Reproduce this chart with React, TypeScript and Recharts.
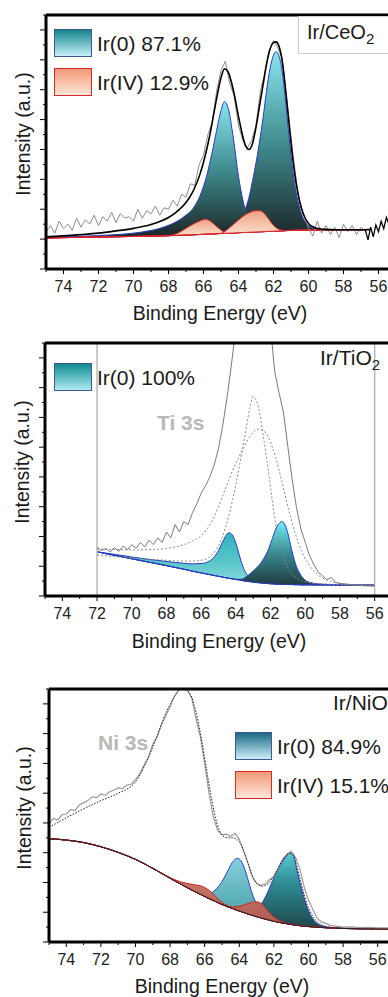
import React from 'react';
import { ComposedChart, Area, Line, XAxis, YAxis, ReferenceLine } from 'recharts';

const FONT = '"Liberation Sans", Arial, Helvetica, sans-serif';

// shared ticks (binding energy in eV, intensity in arbitrary tick units)
const xTicks = [55, 56, 57, 58, 59, 60, 61, 62, 63, 64, 65, 66, 67, 68, 69, 70, 71, 72, 73, 74, 75];
const yTicks = [0, 1, 2, 3, 4, 5, 6, 7, 8, 9, 10, 11, 12, 13, 14, 15, 16, 17];

// ---------- Ir/CeO2 ----------
const ceEnergy = [75, 74, 73, 72, 71, 70, 69, 68.5, 68, 67.5, 67, 66.6, 66.2, 65.9, 65.6, 65.3, 65.0, 64.8, 64.6, 64.3, 64.0, 63.8, 63.6, 63.4, 63.2, 63.0, 62.8, 62.6, 62.4, 62.2, 62.0, 61.85, 61.7, 61.5, 61.3, 61.1, 60.9, 60.7, 60.5, 60.3, 60.0, 59.7, 59.3, 59.0, 58.5, 58.0, 57.0, 56.5];
const ceBackground = [2.08, 2.1, 2.12, 2.14, 2.16, 2.18, 2.2, 2.21, 2.23, 2.25, 2.27, 2.29, 2.31, 2.33, 2.34, 2.36, 2.38, 2.39, 2.4, 2.41, 2.43, 2.44, 2.45, 2.46, 2.47, 2.48, 2.49, 2.5, 2.51, 2.52, 2.53, 2.54, 2.55, 2.56, 2.57, 2.58, 2.58, 2.59, 2.59, 2.6, 2.6, 2.61, 2.61, 2.61, 2.62, 2.62, 2.63, 2.64];
const ceIr0Left = [2.12, 2.15, 2.19, 2.24, 2.3, 2.4, 2.58, 2.72, 2.92, 3.2, 3.6, 4.05, 4.9, 5.9, 7.3, 9.0, 10.6, 11.2, 10.8, 8.8, 6.2, 4.9, 3.9, 3.3, 2.95, 2.72, 2.6, 2.55, 2.52, 2.52, 2.53, 2.54, 2.55, 2.56, 2.57, 2.58, 2.58, 2.59, 2.59, 2.6, 2.6, 2.61, 2.61, 2.61, 2.62, 2.62, 2.63, 2.64];
const ceIr0Right = [2.1, 2.12, 2.15, 2.18, 2.21, 2.25, 2.3, 2.33, 2.37, 2.42, 2.48, 2.53, 2.6, 2.66, 2.72, 2.8, 2.88, 2.95, 3.02, 3.15, 3.35, 3.6, 4.05, 4.8, 5.9, 7.1, 8.5, 10.1, 11.9, 13.4, 14.3, 14.55, 14.3, 13.2, 11.1, 8.7, 6.6, 5.1, 4.05, 3.4, 2.9, 2.72, 2.65, 2.63, 2.62, 2.62, 2.63, 2.64];
const ceIr4Left = [2.08, 2.1, 2.12, 2.14, 2.16, 2.18, 2.2, 2.21, 2.24, 2.38, 2.72, 3.0, 3.22, 3.33, 3.2, 2.9, 2.6, 2.46, 2.41, 2.41, 2.43, 2.44, 2.45, 2.46, 2.47, 2.48, 2.49, 2.5, 2.51, 2.52, 2.53, 2.54, 2.55, 2.56, 2.57, 2.58, 2.58, 2.59, 2.59, 2.6, 2.6, 2.61, 2.61, 2.61, 2.62, 2.62, 2.63, 2.64];
const ceIr4Right = [2.08, 2.1, 2.12, 2.14, 2.16, 2.18, 2.2, 2.21, 2.23, 2.25, 2.27, 2.29, 2.31, 2.33, 2.34, 2.36, 2.38, 2.5, 2.68, 2.98, 3.28, 3.48, 3.64, 3.77, 3.86, 3.9, 3.9, 3.8, 3.55, 3.22, 2.92, 2.76, 2.66, 2.6, 2.57, 2.58, 2.58, 2.59, 2.59, 2.6, 2.6, 2.61, 2.61, 2.61, 2.62, 2.62, 2.63, 2.64];
const ceEnvelope = [2.15, 2.22, 2.3, 2.4, 2.55, 2.72, 2.98, 3.18, 3.45, 3.85, 4.45, 5.2, 6.35, 7.6, 9.2, 11.1, 12.8, 13.4, 13.2, 12.0, 10.2, 9.1, 8.25, 8.0, 8.4, 9.5, 10.9, 12.3, 13.7, 14.7, 15.15, 15.2, 14.95, 13.9, 11.9, 9.6, 7.4, 5.7, 4.5, 3.7, 3.05, 2.8, 2.68, 2.65, 2.63, 2.63, 2.63, 2.64];
const ceRawEnergy = [75, 74.75, 74.5, 74.25, 74, 73.75, 73.5, 73.25, 73, 72.75, 72.5, 72.25, 72, 71.75, 71.5, 71.25, 71, 70.75, 70.5, 70.25, 70, 69.75, 69.5, 69.25, 69, 68.75, 68.5, 68.25, 68, 67.75, 67.5, 67.25, 67, 66.75, 66.5, 66.25, 66, 65.75, 65.5, 65.25, 65, 64.75, 64.5, 64.25, 64, 63.75, 63.5, 63.25, 63, 62.75, 62.5, 62.25, 62, 61.75, 61.5, 61.25, 61, 60.75, 60.5, 60.25, 60, 59.75, 59.5, 59.25, 59, 58.75, 58.5, 58.25, 58, 57.75, 57.5, 57.25, 57, 56.75];
const ceRaw = [2.5, 2.9, 2.4, 3.2, 2.7, 3.0, 2.6, 3.4, 2.8, 3.3, 3.0, 3.6, 2.9, 3.5, 3.2, 3.8, 3.1, 3.7, 3.4, 3.5, 3.2, 4.0, 3.4, 3.9, 3.7, 4.2, 3.6, 4.1, 4.0, 4.6, 4.2, 5.0, 4.8, 5.7, 5.6, 7.0, 7.6, 9.0, 9.8, 11.9, 13.3, 13.9, 12.4, 11.6, 9.6, 8.6, 8.1, 8.6, 9.6, 11.9, 13.1, 14.6, 15.3, 14.8, 14.1, 11.4, 8.8, 6.4, 4.3, 3.6, 2.7, 2.2, 3.2, 2.4, 2.9, 2.3, 2.8, 2.1, 3.0, 2.5, 2.9, 2.3, 2.8, 2.5];
const ceTailEnergy = [56.75, 56.6, 56.45, 56.3, 56.15, 56.0, 55.85, 55.7, 55.55, 55.4, 55.25];
const ceTail = [2.6, 1.95, 2.8, 2.15, 2.95, 2.5, 3.2, 2.7, 3.45, 3.0, 3.5];

// ---------- Ir/TiO2 ----------
const tiEnergy = [72, 71, 70, 69, 68, 67, 66.5, 66, 65.6, 65.3, 65.0, 64.8, 64.6, 64.4, 64.2, 64.0, 63.8, 63.6, 63.4, 63.2, 63.0, 62.7, 62.4, 62.1, 61.9, 61.7, 61.5, 61.35, 61.2, 61.0, 60.8, 60.6, 60.4, 60.2, 60.0, 59.7, 59.3, 58.8, 58.0, 57.0, 56.0];
const tiBackground = [2.97, 2.73, 2.5, 2.27, 2.04, 1.8, 1.67, 1.55, 1.46, 1.39, 1.32, 1.28, 1.23, 1.19, 1.15, 1.11, 1.07, 1.03, 0.99, 0.96, 0.93, 0.89, 0.86, 0.83, 0.82, 0.8, 0.79, 0.78, 0.78, 0.77, 0.77, 0.76, 0.76, 0.75, 0.75, 0.75, 0.74, 0.74, 0.74, 0.74, 0.74];
const tiIr0Left = [2.97, 2.8, 2.62, 2.46, 2.32, 2.2, 2.16, 2.18, 2.3, 2.55, 3.05, 3.55, 4.0, 4.25, 4.1, 3.55, 2.75, 2.0, 1.5, 1.2, 1.02, 0.92, 0.87, 0.83, 0.82, 0.8, 0.79, 0.78, 0.78, 0.77, 0.77, 0.76, 0.76, 0.75, 0.75, 0.75, 0.74, 0.74, 0.74, 0.74, 0.74];
const tiIr0Right = [2.97, 2.73, 2.5, 2.27, 2.04, 1.8, 1.67, 1.55, 1.46, 1.39, 1.32, 1.28, 1.23, 1.19, 1.15, 1.13, 1.12, 1.15, 1.3, 1.48, 1.68, 2.02, 2.5, 3.2, 3.85, 4.5, 4.88, 5.0, 4.85, 4.2, 3.2, 2.3, 1.7, 1.3, 1.05, 0.9, 0.82, 0.78, 0.75, 0.74, 0.74];
const tiTi3sNarrow = [2.75, 2.65, 2.55, 2.47, 2.4, 2.35, 2.35, 2.4, 2.55, 2.85, 3.4, 3.9, 4.6, 5.4, 6.4, 7.5, 8.7, 10.0, 11.3, 12.6, 13.4, 12.7, 10.6, 8.2, 6.4, 4.8, 3.6, 2.9, 2.4, 1.9, 1.55, 1.3, 1.13, 1.02, 0.95, 0.88, 0.83, 0.8, 0.77, 0.75, 0.74];
const tiTi3sBroad = [3.15, 3.12, 3.1, 3.12, 3.2, 3.45, 3.7, 4.05, 4.6, 5.2, 6.0, 6.6, 7.2, 7.8, 8.4, 8.9, 9.4, 9.85, 10.3, 10.7, 11.0, 11.2, 11.1, 10.6, 10.0, 9.3, 8.4, 7.7, 7.0, 6.0, 5.1, 4.3, 3.6, 3.0, 2.5, 1.95, 1.45, 1.1, 0.85, 0.76, 0.74];
const tiRawEnergy = [72, 71.75, 71.5, 71.25, 71, 70.75, 70.5, 70.25, 70, 69.75, 69.5, 69.25, 69, 68.75, 68.5, 68.25, 68, 67.75, 67.5, 67.25, 67, 66.75, 66.5, 66.25, 66, 65.75, 65.5, 65.25, 65, 64.75, 64.5, 64.25, 64, 63.75, 63.5, 63.25, 63, 62.75, 62.5, 62.25, 62, 61.75, 61.5, 61.25, 61, 60.75, 60.5, 60.25, 60, 59.75, 59.5, 59.25, 59, 58.75, 58.5, 58.25, 58, 57.5, 57, 56.5, 56];
const tiRaw = [3.3, 3.05, 3.2, 2.95, 3.25, 3.0, 3.35, 3.1, 3.45, 3.2, 3.6, 3.3, 3.75, 3.45, 3.9, 3.6, 4.3, 3.9, 4.8, 4.3, 5.0, 4.8, 5.6, 6.2, 6.9, 7.4, 8.0, 8.8, 9.9, 11.5, 13.4, 15.6, 18.0, 21, 23, 24.5, 25, 24.5, 23, 20.5, 18, 15.0, 13.6, 12.3, 10.0, 7.8, 5.9, 4.5, 3.6, 2.7, 2.1, 1.6, 1.35, 1.1, 1.25, 0.9, 0.85, 0.78, 0.72, 0.68, 0.66];

// ---------- Ir/NiO ----------
const niEnergy = [75, 74, 73, 72, 71, 70, 69, 68.2, 67.8, 67.4, 67.0, 66.6, 66.2, 65.9, 65.6, 65.3, 65.0, 64.7, 64.4, 64.1, 63.9, 63.7, 63.5, 63.3, 63.1, 62.9, 62.7, 62.5, 62.3, 62.1, 61.9, 61.7, 61.5, 61.3, 61.1, 60.9, 60.7, 60.5, 60.3, 60.1, 59.9, 59.6, 59.3, 59.0, 58.5, 58.0, 57.0, 56.0, 55.0];
const niBackground = [6.94, 6.85, 6.68, 6.4, 6.02, 5.55, 4.95, 4.42, 4.15, 3.9, 3.65, 3.4, 3.17, 3.0, 2.84, 2.68, 2.52, 2.38, 2.25, 2.12, 2.04, 1.96, 1.88, 1.81, 1.74, 1.67, 1.6, 1.54, 1.48, 1.42, 1.37, 1.32, 1.28, 1.24, 1.2, 1.16, 1.13, 1.1, 1.07, 1.05, 1.03, 1.0, 0.98, 0.96, 0.93, 0.91, 0.89, 0.88, 0.87];
const niIr0Left = [6.94, 6.85, 6.68, 6.4, 6.02, 5.55, 4.95, 4.42, 4.15, 3.9, 3.65, 3.4, 3.17, 3.05, 3.3, 3.6, 4.05, 4.7, 5.35, 5.62, 5.45, 4.95, 4.2, 3.4, 2.8, 2.4, 2.05, 1.8, 1.62, 1.5, 1.4, 1.33, 1.28, 1.24, 1.2, 1.16, 1.13, 1.1, 1.07, 1.05, 1.03, 1.0, 0.98, 0.96, 0.93, 0.91, 0.89, 0.88, 0.87];
const niIr0Right = [6.94, 6.85, 6.68, 6.4, 6.02, 5.55, 4.95, 4.42, 4.15, 3.9, 3.65, 3.4, 3.17, 3.0, 2.84, 2.68, 2.52, 2.38, 2.25, 2.12, 2.04, 1.96, 1.88, 1.85, 1.95, 2.3, 2.6, 3.0, 3.5, 4.05, 4.55, 5.0, 5.4, 5.75, 6.0, 5.9, 5.0, 4.0, 3.15, 2.4, 1.85, 1.35, 1.12, 1.02, 0.95, 0.92, 0.89, 0.88, 0.87];
const niIr4Left = [6.94, 6.85, 6.68, 6.4, 6.02, 5.55, 4.95, 4.45, 4.22, 4.05, 3.93, 3.85, 3.76, 3.6, 3.32, 2.98, 2.66, 2.45, 2.28, 2.13, 2.04, 1.96, 1.88, 1.81, 1.74, 1.67, 1.6, 1.54, 1.48, 1.42, 1.37, 1.32, 1.28, 1.24, 1.2, 1.16, 1.13, 1.1, 1.07, 1.05, 1.03, 1.0, 0.98, 0.96, 0.93, 0.91, 0.89, 0.88, 0.87];
const niIr4Right = [6.94, 6.85, 6.68, 6.4, 6.02, 5.55, 4.95, 4.42, 4.15, 3.9, 3.65, 3.4, 3.17, 3.0, 2.84, 2.68, 2.52, 2.42, 2.36, 2.38, 2.43, 2.5, 2.58, 2.65, 2.7, 2.68, 2.55, 2.3, 2.02, 1.78, 1.6, 1.46, 1.35, 1.27, 1.21, 1.16, 1.13, 1.1, 1.07, 1.05, 1.03, 1.0, 0.98, 0.96, 0.93, 0.91, 0.89, 0.88, 0.87];
const niEnvelope = [7.7, 8.35, 8.95, 9.5, 10.0, 10.75, 13.1, 15.5, 16.4, 17.0, 16.9, 15.9, 13.7, 11.6, 9.6, 8.0, 7.2, 7.0, 7.0, 6.85, 6.55, 6.0, 5.3, 4.6, 4.1, 3.85, 3.75, 3.8, 3.95, 4.25, 4.65, 5.1, 5.5, 5.8, 5.95, 5.85, 5.2, 4.3, 3.4, 2.6, 2.05, 1.5, 1.2, 1.05, 0.97, 0.93, 0.9, 0.89, 0.88];
const niRawEnergy = [75, 74.75, 74.5, 74.25, 74, 73.75, 73.5, 73.25, 73, 72.75, 72.5, 72.25, 72, 71.75, 71.5, 71.25, 71, 70.75, 70.5, 70.25, 70, 69.75, 69.5, 69.25, 69, 68.75, 68.5, 68.25, 68, 67.75, 67.5, 67.25, 67, 66.75, 66.5, 66.25, 66, 65.75, 65.5, 65.25, 65, 64.75, 64.5, 64.25, 64, 63.75, 63.5, 63.25, 63, 62.75, 62.5, 62.25, 62, 61.75, 61.5, 61.25, 61, 60.75, 60.5, 60.25, 60, 59.75, 59.5, 59.25, 59, 58.75, 58.5, 58, 57.5, 57, 56.5, 56, 55.5, 55];
const niRaw = [7.95, 8.3, 8.2, 8.55, 8.6, 8.9, 8.85, 9.2, 9.35, 9.5, 9.75, 9.7, 9.95, 9.85, 10.1, 10.2, 10.35, 10.3, 10.55, 10.6, 10.9, 11.3, 11.9, 12.4, 13.3, 13.8, 14.6, 15.2, 15.8, 16.5, 16.9, 17.3, 16.9, 16.4, 15.0, 13.8, 12.0, 10.0, 8.4, 7.5, 7.2, 7.25, 7.1, 7.3, 6.9, 6.1, 5.3, 4.4, 3.95, 3.8, 3.9, 4.2, 4.4, 4.95, 5.55, 5.9, 6.1, 5.7, 4.9, 3.7, 2.8, 2.2, 1.6, 1.35, 1.25, 1.12, 1.08, 1.0, 1.02, 0.97, 0.98, 0.95, 0.95, 0.93];

const band = (e: number[], lo: number[], hi: number[]) => e.map((x, i) => ({ e: x, v: [lo[i], hi[i]] }));
const curve = (e: number[], y: number[]) => e.map((x, i) => ({ e: x, v: y[i] }));

const XTick = (p: any) => {
  const v = p.payload.value;
  const major = v % 2 === 0;
  return (
    <g>
      <line x1={p.x} x2={p.x} y1={p.y} y2={p.y + (major ? 5 : 3)} stroke="#000" strokeWidth={1} />
      {major && v > 55 && v < 75 ? (
        <text x={p.x} y={p.y + 22.5} textAnchor="middle" fontSize={16} fontFamily={FONT} fill="#222">{v}</text>
      ) : null}
    </g>
  );
};

const YTick = (p: any) => {
  const major = p.payload.value % 2 === 0;
  return <line x1={p.x - (major ? 6 : 3)} x2={p.x} y1={p.y} y2={p.y} stroke="#000" strokeWidth={1} />;
};

const frame = { stroke: '#000', strokeWidth: 3 };

// bottom axis with ticks, a bare top axis for the frame, and the left axis
function axes() {
  return [
    <XAxis key="xb" dataKey="e" type="number" domain={[55, 75]} reversed ticks={xTicks} interval={0} allowDataOverflow height={30} tickSize={0} tickMargin={0} tickLine={false} tick={XTick} axisLine={frame} />,
    <XAxis key="xt" xAxisId="top" orientation="top" dataKey="e" type="number" domain={[55, 75]} reversed height={1} tick={false} tickLine={false} axisLine={frame} />,
    <YAxis key="y" type="number" domain={[0, 17]} ticks={yTicks} interval={0} allowDataOverflow width={6} tickSize={0} tickMargin={0} tickLine={false} tick={YTick} axisLine={frame} />,
  ];
}

const grad = (id: string, top: string, mid: string, bottom: string) => (
  <linearGradient id={id} x1="0" y1="0" x2="0" y2="1">
    <stop offset="0%" stopColor={top} />
    <stop offset="50%" stopColor={mid} />
    <stop offset="100%" stopColor={bottom} />
  </linearGradient>
);

const peak = (data: any[], fill: string, stroke: string) => (
  <Area data={data} dataKey="v" type="monotone" fill={fill} fillOpacity={1} stroke={stroke} strokeWidth={1} dot={false} activeDot={false} isAnimationActive={false} />
);

const trace = (data: any[], stroke: string, width: number, dash?: string, smooth?: boolean) => (
  <Line data={data} dataKey="v" type={smooth ? 'monotone' : 'linear'} stroke={stroke} strokeWidth={width} strokeDasharray={dash} dot={false} activeDot={false} isAnimationActive={false} />
);

const text: React.CSSProperties = { position: 'absolute', fontFamily: FONT, color: '#1a1a1a', lineHeight: 1, whiteSpace: 'nowrap' };

function YLabel({ x, y }: { x: number; y: number }) {
  return <div style={{ ...text, left: x, top: y, fontSize: 19.5, transform: 'translate(-50%,-50%) rotate(-90deg)' }}>Intensity (a.u.)</div>;
}

function XLabel({ x, top }: { x: number; top: number }) {
  return <div style={{ ...text, left: x, top, fontSize: 19.5, transform: 'translateX(-50%)' }}>Binding Energy (eV)</div>;
}

function Key({ left, top, w, h, bg, border, label }: { left: number; top: number; w: number; h: number; bg: string; border: string; label: string }) {
  return (
    <div style={{ ...text, left, top, display: 'flex', alignItems: 'center', height: h }}>
      <div style={{ width: w, height: h, boxSizing: 'border-box', border: `1.5px solid ${border}`, background: bg }} />
      <span style={{ fontSize: 21, marginLeft: 5 }}>{label}</span>
    </div>
  );
}

const ir0Key1 = 'linear-gradient(#15858b, #c6eff9)';
const ir0Key2 = 'linear-gradient(#0f8b90, #aeeaf4)';
const ir0Key3 = 'linear-gradient(#1c6a86, #caeef9)';
const ir4Key = 'linear-gradient(#f29a78, #fde6d8)';

export default function App() {
  return (
    <div style={{ position: 'absolute', left: 0, top: 0, width: 388, height: 997, overflow: 'hidden', background: '#fff' }}>
      {/* Ir/CeO2 */}
      <div style={{ position: 'absolute', left: 0, top: 10 }}>
        <ComposedChart width={420} height={289} margin={{ top: 4, right: 24, bottom: 0, left: 40 }}>
          <defs>
            {grad('ceIr0', '#8ae6ef', '#3f8b8e', '#1b2526')}
            {grad('ceIr4', '#efa084', '#f6c6ac', '#fbe4d6')}
          </defs>
          {axes()}
          {peak(band(ceEnergy, ceBackground, ceIr0Right), 'url(#ceIr0)', '#2a3cc0')}
          {peak(band(ceEnergy, ceBackground, ceIr0Left), 'url(#ceIr0)', '#2a3cc0')}
          {peak(band(ceEnergy, ceBackground, ceIr4Left), 'url(#ceIr4)', '#e02424')}
          {peak(band(ceEnergy, ceBackground, ceIr4Right), 'url(#ceIr4)', '#e02424')}
          {trace(curve(ceRawEnergy, ceRaw), '#8c8c8c', 1)}
          {trace(curve(ceEnergy, ceEnvelope), '#000', 1.6, undefined, true)}
          {trace(curve(ceTailEnergy, ceTail), '#000', 1.3)}
        </ComposedChart>
      </div>

      {/* Ir/TiO2 */}
      <div style={{ position: 'absolute', left: 0, top: 338 }}>
        <ComposedChart width={420} height={288} margin={{ top: 4, right: 28, bottom: 0, left: 39 }}>
          <defs>
            {grad('tiIr0a', '#2fb2bc', '#55c4c8', '#88dadc')}
            {grad('tiIr0b', '#70eef6', '#3a8a90', '#1e3b3f')}
          </defs>
          {axes()}
          <ReferenceLine x={72} stroke="#b8b8b8" strokeWidth={1.5} />
          <ReferenceLine x={56} stroke="#b8b8b8" strokeWidth={1.5} />
          {peak(band(tiEnergy, tiBackground, tiIr0Left), 'url(#tiIr0a)', '#2a3cc0')}
          {peak(band(tiEnergy, tiBackground, tiIr0Right), 'url(#tiIr0b)', '#2a3cc0')}
          {trace(curve(tiEnergy, tiTi3sNarrow), '#8a8a8a', 1, '2 2', true)}
          {trace(curve(tiEnergy, tiTi3sBroad), '#8a8a8a', 1, '2 2', true)}
          {trace(curve(tiRawEnergy, tiRaw), '#7a7a7a', 1)}
        </ComposedChart>
      </div>

      {/* Ir/NiO */}
      <div style={{ position: 'absolute', left: 0, top: 684 }}>
        <ComposedChart width={420} height={288} margin={{ top: 4, right: 25, bottom: 0, left: 43 }}>
          <defs>
            {grad('niIr0a', '#98dcf0', '#6cbcc6', '#3f989c')}
            {grad('niIr0b', '#6ae8f2', '#2f8a92', '#1d474c')}
            {grad('niIr4', '#d9988a', '#c47464', '#ab5a50')}
          </defs>
          {axes()}
          {peak(band(niEnergy, niBackground, niIr0Left), 'url(#niIr0a)', '#2a3cc0')}
          {peak(band(niEnergy, niBackground, niIr0Right), 'url(#niIr0b)', '#2a3cc0')}
          {peak(band(niEnergy, niBackground, niIr4Left), 'url(#niIr4)', '#d42424')}
          {peak(band(niEnergy, niBackground, niIr4Right), 'url(#niIr4)', '#d42424')}
          {trace(curve(niEnergy, niBackground), '#222', 1, undefined, true)}
          {trace(curve(niRawEnergy, niRaw), '#9a9a9a', 1.2)}
          {trace(curve(niEnergy, niEnvelope), '#222', 1, '1.5 1.5', true)}
        </ComposedChart>
      </div>

      {/* panel texts */}
      <YLabel x={24} y={134} />
      <YLabel x={23} y={462} />
      <YLabel x={25} y={808} />
      <XLabel x={220} top={304} />
      <XLabel x={219} top={632} />
      <XLabel x={222} top={977} />

      <Key left={54} top={29} w={38} h={28} bg={ir0Key1} border="#3e5a8c" label="Ir(0) 87.1%" />
      <Key left={54} top={68} w={38} h={28} bg={ir4Key} border="#d42a2a" label="Ir(IV) 12.9%" />
      <div style={{ position: 'absolute', left: 298, top: 16, width: 120, height: 38, boxSizing: 'border-box', border: '1px solid #cfcfcf', background: '#fff' }} />
      <div style={{ ...text, left: 307, top: 22, fontSize: 20 }}>
        Ir/CeO<span style={{ fontSize: 15, position: 'relative', top: 5 }}>2</span>
      </div>

      <Key left={54} top={363} w={38} h={28} bg={ir0Key2} border="#3e5a8c" label="Ir(0) 100%" />
      <div style={{ ...text, left: 320, top: 347, fontSize: 21 }}>
        Ir/TiO<span style={{ fontSize: 15, position: 'relative', top: 5 }}>2</span>
      </div>
      <div style={{ ...text, left: 157, top: 412, fontSize: 21, fontWeight: 'bold', color: '#b8b8b8' }}>Ti 3s</div>

      <Key left={235} top={732} w={37} h={28} bg={ir0Key3} border="#3e5a8c" label="Ir(0) 84.9%" />
      <Key left={235} top={771} w={37} h={28} bg={ir4Key} border="#d42a2a" label="Ir(IV) 15.1%" />
      <div style={{ ...text, left: 333, top: 692, fontSize: 21 }}>Ir/NiO</div>
      <div style={{ ...text, left: 98, top: 732, fontSize: 21, fontWeight: 'bold', color: '#b8b8b8' }}>Ni 3s</div>
    </div>
  );
}
